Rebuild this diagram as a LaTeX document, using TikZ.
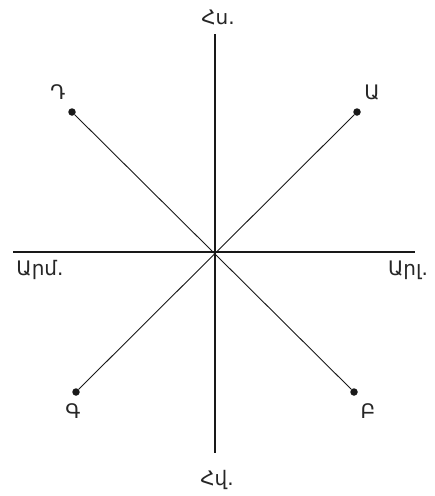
\documentclass[tikz,border=0pt]{standalone}
\usepackage{fontspec}
\setmainfont{DejaVu Sans}
\begin{document}
\begin{tikzpicture}[x=1pt,y=-1pt,
  axis/.style={line width=1.8pt,black!90},
  diag/.style={line width=0.9pt,black!90},
  dot/.style={circle,fill=black!90,inner sep=0pt,minimum size=7.5pt},
  lbl/.style={font=\fontsize{20}{22}\selectfont,text=black!85,inner sep=0pt}]
\useasboundingbox (0,0) rectangle (435,496);
\coordinate (O) at (215,252);
\coordinate (N) at (215,34);
\coordinate (S) at (215,453);
\coordinate (W) at (13,252);
\coordinate (E) at (415,252);
\node[dot] (A) at (357,112) {};
\node[dot] (D) at (72,112) {};
\node[dot] (G) at (76,392) {};
\node[dot] (B) at (354,392) {};
\draw[axis] (N) -- (S);
\draw[axis] (W) -- (E);
\draw[diag] (A) -- (G);
\draw[diag] (D) -- (B);
\node[lbl] (lN) at (218,17) {Հս.};
\node[lbl] (lS) at (217,480) {Հվ.};
\node[lbl] (lW) at (40,270) {Արմ.};
\node[lbl] (lE) at (408,270) {Արլ.};
\node[lbl] (lA) at (372,92) {Ա};
\node[lbl] (lD) at (58,92) {Դ};
\node[lbl] (lG) at (73,411) {Գ};
\node[lbl] (lB) at (368,411) {Բ};
\end{tikzpicture}
\end{document}
